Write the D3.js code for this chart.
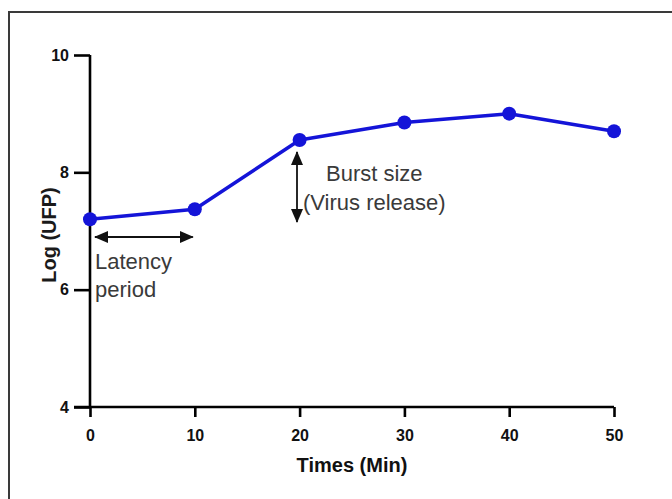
<!DOCTYPE html>
<html>
<head>
<meta charset="utf-8">
<script src="https://cdn.jsdelivr.net/npm/d3@7"></script>
<style>
  html, body { margin: 0; padding: 0; background: #fff; }
  svg { display: block; }
</style>
</head>
<body>
<svg id="chart" width="672" height="499"></svg>
<script>
// One-step growth curve: log titre over time
const times = [0, 10, 20, 30, 40, 50];
const logUFP = [7.2, 7.37, 8.55, 8.85, 9.0, 8.7];
const xTicks = [0, 10, 20, 30, 40, 50];
const yTicks = [4, 6, 8, 10];

const svg = d3.select("#chart");
const W = 672, H = 499;
const font = "Liberation Sans, Arial, sans-serif";

// frame around the figure
svg.append("rect")
  .attr("x", 9).attr("y", 12)
  .attr("width", W + 20).attr("height", H + 20)
  .attr("fill", "none").attr("stroke", "#3a3a3a").attr("stroke-width", 2);

const x = d3.scaleLinear().domain([0, 50]).range([90, 614]);
const y = d3.scaleLinear().domain([4, 10]).range([407, 55]);

const axisColor = "#000";

// y axis
const yAxis = svg.append("g")
  .attr("transform", `translate(${x(0)},0)`)
  .call(d3.axisLeft(y).tickValues(yTicks).tickSize(16).tickPadding(5).tickFormat(d3.format("d")));
yAxis.select(".domain").attr("d", `M0,${y(10)}V${y(4)}`).attr("stroke", axisColor).attr("stroke-width", 2.6);
yAxis.selectAll(".tick line").attr("stroke", axisColor).attr("stroke-width", 2.6);
yAxis.selectAll(".tick text")
  .attr("fill", "#111").attr("font-family", font)
  .attr("font-weight", "bold").attr("font-size", 16);

// x axis
const xAxis = svg.append("g")
  .attr("transform", `translate(0,${y(4)})`)
  .call(d3.axisBottom(x).tickValues(xTicks).tickSize(10).tickPadding(13).tickFormat(d3.format("d")));
xAxis.select(".domain").attr("d", `M${x(0) - 16},0H${x(50)}`).attr("stroke", axisColor).attr("stroke-width", 2.6);
xAxis.selectAll(".tick line").attr("stroke", axisColor).attr("stroke-width", 2.6);
xAxis.selectAll(".tick text")
  .attr("fill", "#111").attr("font-family", font)
  .attr("font-weight", "bold").attr("font-size", 16);

// axis titles
svg.append("text")
  .attr("x", (x(0) + x(50)) / 2).attr("y", 472)
  .attr("text-anchor", "middle")
  .attr("font-family", font)
  .attr("font-weight", "bold").attr("font-size", 20).attr("fill", "#111")
  .text("Times (Min)");

svg.append("text")
  .attr("transform", `translate(56,235) rotate(-90)`)
  .attr("text-anchor", "middle")
  .attr("font-family", font)
  .attr("font-weight", "bold").attr("font-size", 20).attr("fill", "#1a1a1a")
  .text("Log (UFP)");

// data line and markers
const blue = "#1414d8";
const line = d3.line().x((d, i) => x(times[i])).y(d => y(d));
svg.append("path")
  .datum(logUFP)
  .attr("d", line)
  .attr("fill", "none").attr("stroke", blue).attr("stroke-width", 3.5)
  .attr("stroke-linejoin", "round");

svg.selectAll("circle.pt")
  .data(logUFP)
  .join("circle")
  .attr("class", "pt")
  .attr("cx", (d, i) => x(times[i]))
  .attr("cy", d => y(d))
  .attr("r", 7)
  .attr("fill", blue);

// arrowheads
const defs = svg.append("defs");
defs.append("marker")
  .attr("id", "head")
  .attr("viewBox", "0 0 14 12")
  .attr("refX", 13).attr("refY", 6)
  .attr("markerWidth", 14).attr("markerHeight", 12)
  .attr("markerUnits", "userSpaceOnUse")
  .attr("orient", "auto-start-reverse")
  .append("path").attr("d", "M0,0L14,6L0,12Z").attr("fill", "#111");

// latency period arrow
svg.append("line")
  .attr("x1", x(0) + 5).attr("x2", x(10) - 2)
  .attr("y1", 237).attr("y2", 237)
  .attr("stroke", "#111").attr("stroke-width", 1.8)
  .attr("marker-start", "url(#head)").attr("marker-end", "url(#head)");

// burst size arrow
svg.append("line")
  .attr("x1", 297).attr("x2", 297)
  .attr("y1", 152).attr("y2", 222)
  .attr("stroke", "#111").attr("stroke-width", 1.8)
  .attr("marker-start", "url(#head)").attr("marker-end", "url(#head)");

const noteColor = "#3a3a3a";
const notes = [
  { text: "Latency", x: 95, y: 269 },
  { text: "period", x: 95, y: 297 },
  { text: "Burst size", x: 326, y: 181 },
  { text: "(Virus release)", x: 303, y: 210 }
];
svg.selectAll("text.note")
  .data(notes)
  .join("text")
  .attr("class", "note")
  .attr("x", d => d.x).attr("y", d => d.y)
  .attr("font-family", font).attr("font-size", 22).attr("fill", noteColor)
  .text(d => d.text);
</script>
</body>
</html>
